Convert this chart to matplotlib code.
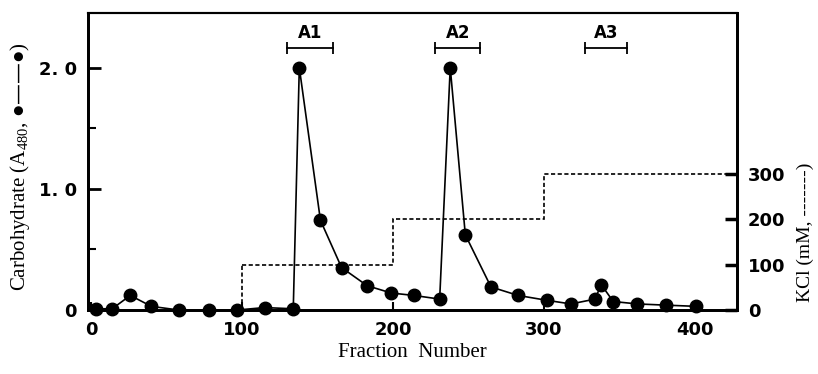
import matplotlib
matplotlib.use("Agg")
import matplotlib.pyplot as plt

fraction = [3, 14, 26, 40, 58, 78, 97, 115, 134, 138, 152, 166, 183, 199, 214, 231,
            238, 248, 265, 283, 302, 318, 334, 338, 346, 362, 381, 401]
carb = [0.01, 0.01, 0.12, 0.03, 0.0, 0.0, 0.0, 0.02, 0.01, 2.0, 0.74, 0.35, 0.2, 0.14,
        0.12, 0.09, 2.0, 0.62, 0.19, 0.12, 0.08, 0.05, 0.09, 0.21, 0.07, 0.05, 0.04, 0.03]

kcl_edges = [100, 200, 300, 430]
kcl_conc = [100, 200, 300]

pools = ["A1", "A2", "A3"]
pool_start = [130, 228, 327]
pool_end = [160, 258, 355]

xticks = [0, 100, 200, 300, 400]
yticks_left = [0, 1.0, 2.0]
yticklabels_left = ["0", "1. 0", "2. 0"]
yticks_right = [0, 100, 200, 300]

fig = plt.figure(figsize=(8.18, 3.74), dpi=100)
ax = fig.add_axes([88/818, 1-310/374, (737-88)/818, (310-13)/374])
ax2 = ax.twinx()

tickfont = dict(family="DejaVu Sans", weight="bold", size=13)
serif = ["Liberation Serif", "DejaVu Sans"]

ax.plot(fraction, carb, color="black", lw=1.2, marker="o", ms=9, zorder=5, clip_on=False)
ax2.stairs(kcl_conc, kcl_edges, color="black", lw=1.2, linestyle=(0, (2.5, 1.5)), baseline=None)
ax2.plot([kcl_edges[0], kcl_edges[0]], [0, kcl_conc[0]], color="black", lw=1.2, linestyle=(0, (2.5, 1.5)))

for name, s, e in zip(pools, pool_start, pool_end):
    ax.plot([s, e], [2.16, 2.16], color="black", lw=1.3, marker="|", ms=9, mew=1.3)
    ax.text((s + e) / 2, 2.21, name, ha="center", va="bottom",
            family="DejaVu Sans", weight="bold", size=12)

ax.set_xlim(-2, 428)
ax.set_ylim(0, 2.45)
ax2.set_ylim(0, 653)
ax.set_xticks(xticks)
ax.set_xticklabels([str(t) for t in xticks], **tickfont)
ax.set_yticks(yticks_left)
ax.set_yticklabels(yticklabels_left, **tickfont)
ax.set_yticks([0.5, 1.5], minor=True)
ax2.set_yticks(yticks_right)
ax2.set_yticklabels([str(t) for t in yticks_right], **tickfont)

ax.tick_params(axis="both", which="major", direction="in", length=9, width=2, pad=8)
ax.tick_params(axis="y", which="minor", direction="in", length=6, width=1.5)
ax.tick_params(axis="x", length=6, width=1.5)
ax2.tick_params(axis="y", direction="in", length=9, width=2.5, pad=8)

for a in (ax, ax2):
    for sp in a.spines.values():
        sp.set_linewidth(2)
    a.spines["top"].set_linewidth(1.5)

ax.set_xlabel("Fraction  Number", family=serif, size=15, labelpad=3)
fig.text(0.024, 0.555, "Carbohydrate (A$_{\\mathregular{480}}$, ●——●)", rotation=90,
         ha="center", va="center", family=serif, size=15)
fig.text(0.985, 0.38, "KCl (mM, -------)", rotation=90, ha="center", va="center",
         family=serif, size=14)

fig.savefig("out.png", dpi=100)
